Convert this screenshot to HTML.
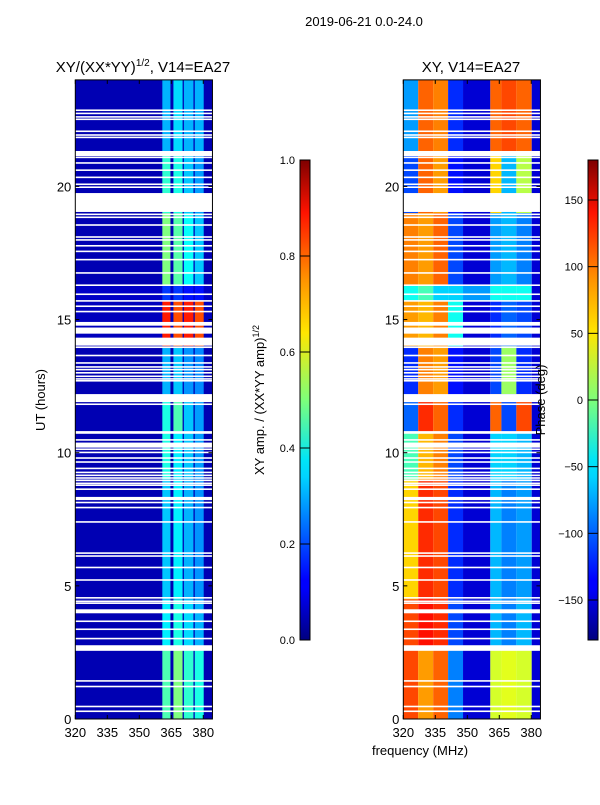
<!DOCTYPE html>
<html><head><meta charset="utf-8"><style>
body{margin:0;background:#fff;width:600px;height:800px;overflow:hidden}
svg{font-family:"Liberation Sans",sans-serif}
</style></head><body>
<svg id="c" width="600" height="800" xmlns="http://www.w3.org/2000/svg">
<defs>
<linearGradient id="jet" x1="0" y1="1" x2="0" y2="0">
<stop offset="0" stop-color="#00007f"/><stop offset="0.11" stop-color="#0000ff"/><stop offset="0.125" stop-color="#0000ff"/>
<stop offset="0.34" stop-color="#00d4ff"/><stop offset="0.375" stop-color="#00e5f7"/><stop offset="0.5" stop-color="#7dff7a"/>
<stop offset="0.64" stop-color="#ffe600"/><stop offset="0.75" stop-color="#ff9400"/><stop offset="0.89" stop-color="#ff1300"/>
<stop offset="1" stop-color="#7f0000"/></linearGradient>
</defs>
<text x="364" y="26" font-size="13" text-anchor="middle">2019-06-21 0.0-24.0</text>
<text x="143" y="72" font-size="15" text-anchor="middle">XY/(XX*YY)<tspan font-size="10" dy="-6">1/2</tspan><tspan dy="6">, V14=EA27</tspan></text>
<text x="471" y="72" font-size="15" text-anchor="middle">XY, V14=EA27</text>
<g id="ampPanel"></g>
<g id="phPanel"></g>
<g id="axes"></g>
<text transform="translate(45,400) rotate(-90)" font-size="13" text-anchor="middle">UT (hours)</text>
<text x="420" y="755" font-size="13" text-anchor="middle">frequency (MHz)</text>
<rect x="300" y="160" width="10" height="480" fill="url(#jet)" stroke="#000" stroke-width="1"/>
<rect x="588" y="160" width="10" height="480" fill="url(#jet)" stroke="#000" stroke-width="1"/>
<text transform="translate(264,400) rotate(-90)" font-size="13" text-anchor="middle">XY amp. / (XX*YY amp)<tspan font-size="9" dy="-5">1/2</tspan></text>
<text transform="translate(545,400) rotate(-90)" font-size="13" text-anchor="middle">Phase (deg)</text>
<g id="cb"></g>
</svg>
<script>
// ---- data ----
const flagStart=[22.83,22.71,22.58,22.49,22.04,21.90,21.81,21.14,21.06,20.85,20.58,20.31,20.05,19.94,19.04,18.92,18.81,18.52,18.07,17.96,17.74,17.53,17.22,16.72,16.26,15.92,15.67,15.47,15.27,14.77,14.47,14.02,13.93,13.62,13.34,13.19,13.09,12.97,12.84,12.74,12.67,11.90,11.79,10.71,10.45,10.19,10.10,9.98,9.77,9.62,9.38,9.23,9.12,9.02,8.93,8.82,8.75,8.60,8.22,8.10,7.91,7.37,6.20,6.09,5.66,5.19,4.52,4.39,4.32,3.97,3.64,3.34,2.99,2.56,1.40,1.19,0.44,0.26];
const flagEnd=[22.89,22.77,22.64,22.55,22.10,21.96,21.87,21.33,21.12,20.91,20.64,20.37,20.11,20.00,19.75,18.98,18.87,18.58,18.13,18.02,17.80,17.59,17.28,16.78,16.32,15.98,15.73,15.53,15.33,14.91,14.70,14.32,13.99,13.68,13.40,13.25,13.15,13.03,12.90,12.80,12.73,12.20,11.85,10.81,10.51,10.38,10.16,10.04,9.83,9.68,9.44,9.29,9.18,9.08,8.99,8.88,8.81,8.66,8.34,8.16,7.97,7.43,6.26,6.15,5.72,5.25,4.58,4.45,4.38,4.12,3.70,3.40,3.05,2.77,1.46,1.25,0.50,0.32];
const segStart=[0,2.6,4.5,9,10.8,12.2,14,15.7,16.3,19,21.3];
const segEnd=[2.6,4.5,9,10.8,12.2,14,15.7,16.3,19,21.3,24];
const ampBandLo=[360.8,366.0,370.9,376.0];
const ampBandHi=[364.6,370.3,375.4,380.2];
const ampBg=[0.05,0.05,0.05,0.05,0.05,0.05,0.06,0.07,0.05,0.05,0.05];
const ampVals=[[0.45,0.5,0.42,0.4],[0.36,0.4,0.34,0.3],[0.32,0.36,0.3,0.27],[0.4,0.36,0.32,0.28],[0.4,0.45,0.32,0.28],[0.3,0.32,0.27,0.26],[0.85,0.8,0.85,0.8],[0.18,0.18,0.14,0.14],[0.5,0.46,0.38,0.32],[0.42,0.4,0.32,0.28],[0.3,0.34,0.3,0.3]];
const phZoneLo=[320,327,334,341,348,360.8,366,373,380.2];
const phZoneHi=[327,334,341,348,360.8,366,373,380.2,384.3];
const phVals=[[110,80,100,-90,-150,30,35,30,-150],[110,130,120,-110,-150,-70,-90,-70,-150],[60,120,110,-120,-150,-70,-90,-80,-150],[-20,70,90,-110,-150,-60,-60,-70,-150],[-100,120,100,-120,-150,100,-110,110,-150],[-120,90,80,-130,-150,-110,10,-120,-150],[80,70,90,-40,-150,-120,-100,-110,-150],[-40,-20,-60,-60,-80,-40,-40,-40,-150],[90,80,100,-110,-150,-80,-70,-90,-150],[-110,100,80,-130,-150,60,-70,20,-150],[-80,100,90,-120,-150,100,110,100,-150]];
const xTicks=[320,335,350,365,380];
const yTicks=[0,5,10,15,20];
const ampTicks=[0.0,0.2,0.4,0.6,0.8,1.0];
const phTicks=[-150,-100,-50,0,50,100,150];
// ---- scales ----
const NS='http://www.w3.org/2000/svg';
const fMin=320,fMax=384.3;
function xs(f,x0){return x0+(f-fMin)*2.133;}
function ys(h){return 719-h*26.63;}
function jet(v){v=Math.max(0,Math.min(1,v));const c=t=>Math.round(255*Math.max(0,Math.min(1,1.5-Math.abs(4*v-t))));return `rgb(${c(3)},${c(2)},${c(1)})`;}
function mk(parent,tag,attrs){const e=document.createElementNS(NS,tag);for(const k in attrs)e.setAttribute(k,attrs[k]);parent.appendChild(e);return e;}
const amp=document.getElementById('ampPanel'),ph=document.getElementById('phPanel');
const L=75.3,R=403.3;
for(let s=0;s<segStart.length;s++){
  const y1=ys(segEnd[s]),y2=ys(segStart[s]);
  const bg=mk(amp,'rect',{x:xs(fMin,L),y:y1,width:xs(fMax,L)-xs(fMin,L),height:y2-y1,fill:jet(ampBg[s])});
  
  
  for(let b=0;b<ampBandLo.length;b++){
    const r=mk(amp,'rect',{x:xs(ampBandLo[b],L),y:y1,width:xs(ampBandHi[b],L)-xs(ampBandLo[b],L),height:y2-y1,fill:jet(ampVals[s][b])});
    
    
  }
  for(let z=0;z<phZoneLo.length;z++){
    const r=mk(ph,'rect',{x:xs(phZoneLo[z],R),y:y1,width:xs(phZoneHi[z],R)-xs(phZoneLo[z],R),height:y2-y1,fill:jet((phVals[s][z]+180)/360)});
    
    
  }
}
[[amp,L],[ph,R]].forEach(([g,x0])=>{
  for(let i=0;i<flagStart.length;i++){
    const y1=ys(flagEnd[i]),y2=ys(flagStart[i]);
    const r=mk(g,'rect',{x:x0,y:y1,width:xs(fMax,x0)-x0,height:Math.max(1.5,y2-y1),fill:'#fff'});
    
    
  }
});
const ax=document.getElementById('axes');
[L,R].forEach((x0,pi)=>{
  const fr=mk(ax,'rect',{x:x0,y:ys(24),width:xs(fMax,x0)-x0,height:ys(0)-ys(24),fill:'none',stroke:'#000','stroke-width':1});
  
  
  xTicks.forEach(t=>{const x=xs(t,x0);
    mk(ax,'line',{x1:x,x2:x,y1:719,y2:715,stroke:'#000'});mk(ax,'line',{x1:x,x2:x,y1:ys(24),y2:ys(24)+4,stroke:'#000'});
    const tx=mk(ax,'text',{x:x,y:737,'font-size':13,'text-anchor':'middle'});tx.textContent=t;
    
    });
  yTicks.forEach(t=>{const y=ys(t);const xe=xs(fMax,x0);
    mk(ax,'line',{x1:x0,x2:x0+4,y1:y,y2:y,stroke:'#000'});mk(ax,'line',{x1:xe,x2:xe-4,y1:y,y2:y,stroke:'#000'});
    const tx=mk(ax,'text',{x:x0-4,y:y+5,'font-size':13,'text-anchor':'end'});tx.textContent=t;
    
    });
});
const cb=document.getElementById('cb');
ampTicks.forEach(t=>{const y=640-t*480;
  mk(cb,'line',{x1:300,x2:310,y1:y,y2:y,stroke:'#000'});
  const tx=mk(cb,'text',{x:295,y:y+4,'font-size':11,'text-anchor':'end'});tx.textContent=t.toFixed(1);
  
  });
phTicks.forEach(t=>{const y=400-t*480/360;
  mk(cb,'line',{x1:588,x2:598,y1:y,y2:y,stroke:'#000'});
  const tx=mk(cb,'text',{x:583,y:y+4,'font-size':11,'text-anchor':'end'});tx.textContent=t<0?'\u2212'+(-t):t;
  
  });
</script>
</body></html>
